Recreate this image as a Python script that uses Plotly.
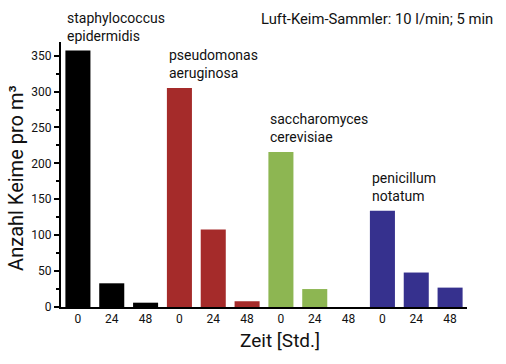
import plotly.graph_objects as go

times = ["0", "24", "48"]
species = ["staphylococcus<br>epidermidis", "pseudomonas<br>aeruginosa",
           "saccharomyces<br>cerevisiae", "penicillum<br>notatum"]
staph = [357, 33, 6]
pseudo = [305, 108, 8]
sacch = [216, 25, 0]
penic = [134, 48, 27]
colors = ["#000000", "#A52B2A", "#8DB652", "#36318E"]

series = [staph, pseudo, sacch, penic]
FONT = "Roboto"

fig = go.Figure()
tickvals, ticktext = [], []
for i, (vals, col, name) in enumerate(zip(series, colors, species)):
    xs = [i * 3 + j for j in range(3)]
    tickvals += xs
    ticktext += times
    fig.add_trace(go.Bar(x=xs, y=vals, marker=dict(color=col, line=dict(width=0)),
                         name=name.replace("<br>", " "), showlegend=False,
                         hoverinfo="skip"))
    fig.add_annotation(x=xs[0] - 0.37, y=vals[0], xref="x", yref="y",
                       text=name, showarrow=False, xanchor="left", yanchor="bottom",
                       align="left", yshift=5,
                       font=dict(family=FONT, size=14, color="#111"))

fig.add_annotation(x=1.07, y=1.13, xref="paper", yref="paper",
                   text="Luft-Keim-Sammler: 10 l/min; 5 min", showarrow=False,
                   xanchor="right", yanchor="top",
                   font=dict(family=FONT, size=14.8, color="#111"))
fig.add_annotation(x=0.539, y=-0.125, xref="paper", yref="paper",
                   text="Zeit [Std.]", showarrow=False,
                   xanchor="center", yanchor="middle",
                   font=dict(family=FONT, size=19, color="#111"))
fig.add_annotation(x=-0.111, y=0.487, xref="paper", yref="paper",
                   text="Anzahl Keime pro m³", showarrow=False, textangle=-90,
                   xanchor="center", yanchor="middle",
                   font=dict(family=FONT, size=20, color="#111"))

fig.update_layout(
    width=506, height=364,
    margin=dict(l=61, r=39, t=42, b=57),
    plot_bgcolor="white", paper_bgcolor="white",
    bargap=0.26,
    font=dict(family=FONT, color="#111"),
)
fig.update_xaxes(
    range=[-0.5, 11.5], tickvals=tickvals, ticktext=ticktext,
    showline=True, linecolor="black", linewidth=2, ticks="", showgrid=False,
    tickfont=dict(size=12, family=FONT), zeroline=False,
)
fig.update_yaxes(
    range=[0, 369], tickvals=[0, 50, 100, 150, 200, 250, 300, 350],
    showline=True, linecolor="black", linewidth=2, ticks="outside", ticklen=5,
    tickwidth=1.5, tickcolor="black", showgrid=False, zeroline=False,
    minor=dict(ticks="outside", ticklen=3, tickwidth=1.5, tickcolor="black", dtick=25),
    tickfont=dict(size=12, family=FONT),
)

fig.write_html("out.html", config={"displayModeBar": False},
               post_script="document.body.style.margin='0';document.body.style.overflow='hidden';")
